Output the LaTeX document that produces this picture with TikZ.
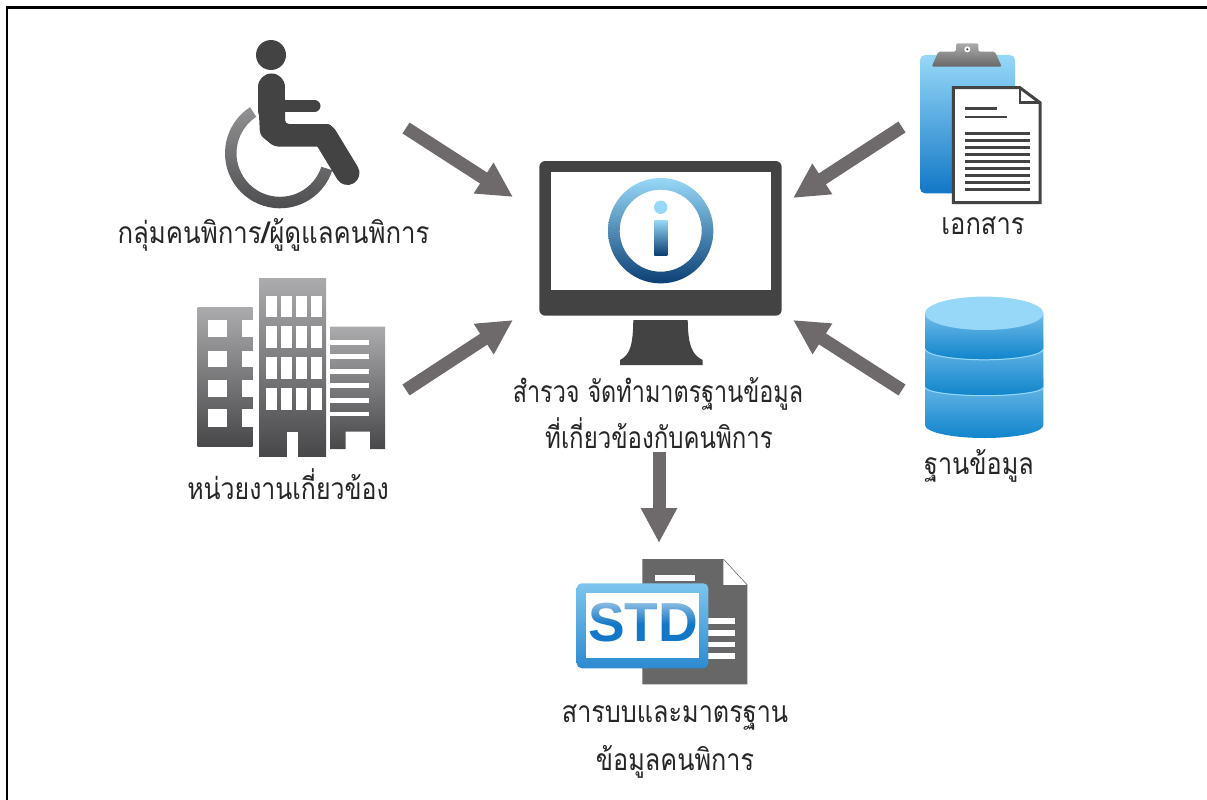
\documentclass[tikz,border=0pt]{standalone}
\usepackage{fontspec}
\usetikzlibrary{arrows.meta,fadings}
\newfontfamily\thaifont[Script=Thai]{Loma}
\newfontfamily\stdfont{Liberation Sans}
\definecolor{iconDark}{HTML}{434343}
\definecolor{arrowGray}{HTML}{6E6A6B}
\definecolor{grayTop}{HTML}{ABABAD}
\definecolor{grayBot}{HTML}{48484A}
\definecolor{skyTop}{HTML}{97D8F8}
\definecolor{skyBot}{HTML}{1277C6}
\definecolor{navyBot}{HTML}{0C3F74}
\definecolor{docGray}{HTML}{676767}
\tikzset{
  flowarrow/.style={draw=arrowGray, line width=13pt, -{Triangle[length=35pt,width=34pt]}},
  thailabel/.style={inner sep=0pt, text=black!85, font=\thaifont\fontsize{30}{34}\selectfont},
  towershade/.style={top color=grayTop, bottom color=grayBot},
}
\begin{document}
\begin{tikzpicture}[x=1pt,y=-1pt]
 \useasboundingbox (0,0) rectangle (1207,800);
 \draw[line width=2.6pt] (7,800) -- (7,7.5) -- (1207,7.5);

 % wheelchair
 \begin{scope}[shift={(280,153.3)}]
  \shade[top color=grayTop!85!black, bottom color=grayBot] (-123:55) arc[start angle=-123,end angle=-342,radius=55]
    -- (-342:43.5) arc[start angle=-342,end angle=-123,radius=43.5] -- cycle;
 \end{scope}
 \fill[iconDark] (271,55) circle (15);
 \draw[iconDark, line width=27pt, line cap=round] (271.5,87) -- (271.5,110);
 \draw[iconDark, line width=12pt, line cap=round] (280,106) -- (314.5,106);
 \fill[iconDark, rounded corners=4pt] (258,95) -- (285,95) -- (285,124) -- (332,124) -- (332,146.5) -- (274,146.5) -- (260,135) -- cycle;
 \draw[iconDark, line width=24pt, line cap=round] (325,136) -- (347.5,173);
 \node[thailabel, xscale=.86] (wheelLabel) at (273.5,235) {กลุ่มคนพิการ{\bfseries /}ผู้ดูแลคนพิการ};

 % buildings
 \shade[towershade] (197.7,307.3) rectangle (252.7,446);
 \shade[towershade] (259,278.3) rectangle (326,456);
 \shade[towershade] (330,326.7) -- (385,326.7) -- (385,449) -- (370,449) -- (370,431.7) -- (345.7,431.7) -- (345.7,449) -- (330,449) -- cycle;
 \foreach \wy/\wh in {320/16.7,351/16.3,380/16.7,409.3/17.4} {
  \fill[white] (208.3,\wy) rectangle +(19,\wh);
  \fill[white] (241.7,\wy) rectangle +(11.5,\wh);
 }
 \foreach \wy/\wh in {295.7/21.6,326/22.3,356.7/22.3,388.3/21.7}
  \foreach \wx in {265.7,281,296,310.7}
   \fill[white] (\wx,\wy) rectangle +(11,\wh);
 \fill[white] (286.7,431.7) rectangle (298.3,456.5);
 \foreach \wy in {340,354.3,369,383.3,398.3,411.7}
  \fill[white] (329.5,\wy) rectangle (369,\wy+4.7);
 \node[thailabel, xscale=.83] (orgLabel) at (288,484) {หน่วยงานเกี่ยวข้อง};

 % monitor
 \fill[iconDark] (633.3,320) -- (687.7,320) .. controls (688,345) and (692,355) .. (702.7,360) -- (702.7,365) -- (620,365) -- (620,360) .. controls (630,355) and (633,345) .. (633.3,320) -- cycle;
 \fill[iconDark, rounded corners=6pt] (539.3,161) rectangle (781.7,315.7);
 \fill[white] (550.7,172.3) rectangle (770.7,290);
 \shade[top color=skyTop, bottom color=navyBot, even odd rule] (660.7,230.7) circle (52.7) (660.7,230.7) circle (41);
 \fill[skyTop] (660.7,207.3) circle (6.7);
 \shade[top color=skyTop, bottom color=navyBot] (654.3,220) rectangle (667.3,255);
 \node[thailabel, xscale=.78] (surveyLabel) at (658,394) {สำรวจ จัดทำมาตรฐานข้อมูล};
 \node[thailabel, xscale=.80] (relatedLabel) at (659,433) {ที่เกี่ยวข้องกับคนพิการ};

 % clipboard and sheet
 \shade[top color=skyTop, bottom color=skyBot, rounded corners=5pt] (920,55) rectangle (1015,193.3);
 \shade[top color=grayTop, bottom color=docGray, rounded corners=1.5pt] (931.7,66.7) -- (938.3,51.7) -- (956,51.7) -- (956,43.3) -- (978.3,43.3) -- (978.3,51.7) -- (995,51.7) -- (1001.7,66.7) -- cycle;
 \fill[white] (967.3,49.3) circle (3);
 \fill[iconDark] (967.3,49.3) circle (1.2);
 \draw[iconDark, fill=white, line width=3pt] (953.3,87.7) -- (1020,87.7) -- (1040,102.7) -- (1040,202.7) -- (953.3,202.7) -- cycle;
 \draw[iconDark, line width=2.5pt] (1020,87.7) -- (1020,102.7) -- (1040,102.7);
 \draw[iconDark, line width=2.4pt] (965,108.3) -- (996.7,108.3);
 \draw[iconDark, line width=2.4pt] (965,116.7) -- (1007.3,116.7);
 \foreach \ly in {133.7,140.7,147.6,154.6,161.5,168.5,175.4,182.4,189.3}
  \draw[iconDark, line width=3pt] (965,\ly) -- (1030,\ly);
 \node[thailabel, xscale=.85] (paperLabel) at (983,226) {เอกสาร};

 % database
 \foreach \ya/\yb/\yc in {378/425/13,340/386.7/8.5,313.3/348.3/11}
  \shade[top color=skyTop!70!skyBot, bottom color=skyBot!90!cyan] (925,\ya) -- (925,\yb) arc[start angle=180,end angle=0,x radius=59.2,y radius=\yc] -- (1043.4,\ya) -- cycle;
 \draw[skyTop, line width=1pt] (925,387.2) arc[start angle=180,end angle=0,x radius=59.2,y radius=8.5];
 \draw[skyTop, line width=1pt] (925,348.8) arc[start angle=180,end angle=0,x radius=59.2,y radius=11];
 \fill[skyTop] (984.2,313.3) ellipse (59.2 and 16.7);
 \node[thailabel, xscale=.84] (dataLabel) at (979,466) {ฐานข้อมูล};

 % standard sheet
 \fill[docGray] (642.3,559) -- (723.3,559) -- (723.3,585) -- (747.3,585) -- (747.3,684.3) -- (642.3,684.3) -- cycle;
 \draw[docGray, line width=.6pt] (723.3,559) -- (747.3,585);
 \fill[white] (655,575) rectangle (695,580.7);
 \foreach \ly in {618.3,630,641.7,653.3}
  \fill[white] (700,\ly) rectangle (735,\ly+5.5);
 \shade[top color=skyTop!80!skyBot, bottom color=skyBot!80!skyTop, rounded corners=5pt] (576.7,583.3) rectangle (708.3,668.3);
 \fill[white] (585.7,593.3) rectangle (699,658.3);
 \node[inner sep=0pt, text=skyBot, font=\stdfont\bfseries\fontsize{55}{60}\selectfont] (stdText) at (643,623) {STD};
 \fill[white, opacity=.55, path fading=south] (588,601) rectangle (698,624);
 \node[thailabel, xscale=.84] (stdLabel) at (675,718) {สารบบและมาตรฐาน};
 \node[thailabel, xscale=.84] (stdLabelb) at (675,762) {ข้อมูลคนพิการ};

 \coordinate (groupOut) at (406,128);
 \coordinate (orgOut) at (406,390);
 \coordinate (paperOut) at (902,127);
 \coordinate (dataOut) at (902,390);
 \coordinate (inTopLeft) at (513,197);
 \coordinate (inBotLeft) at (513,320);
 \coordinate (inTopRight) at (793,198);
 \coordinate (inBotRight) at (793,320);
 \coordinate (resultOut) at (659,452);
 \coordinate (resultIn) at (659,543);

 \draw[flowarrow] (groupOut) -- (inTopLeft);
 \draw[flowarrow] (orgOut) -- (inBotLeft);
 \draw[flowarrow] (paperOut) -- (inTopRight);
 \draw[flowarrow] (dataOut) -- (inBotRight);
 \draw[flowarrow] (resultOut) -- (resultIn);
\end{tikzpicture}
\end{document}
